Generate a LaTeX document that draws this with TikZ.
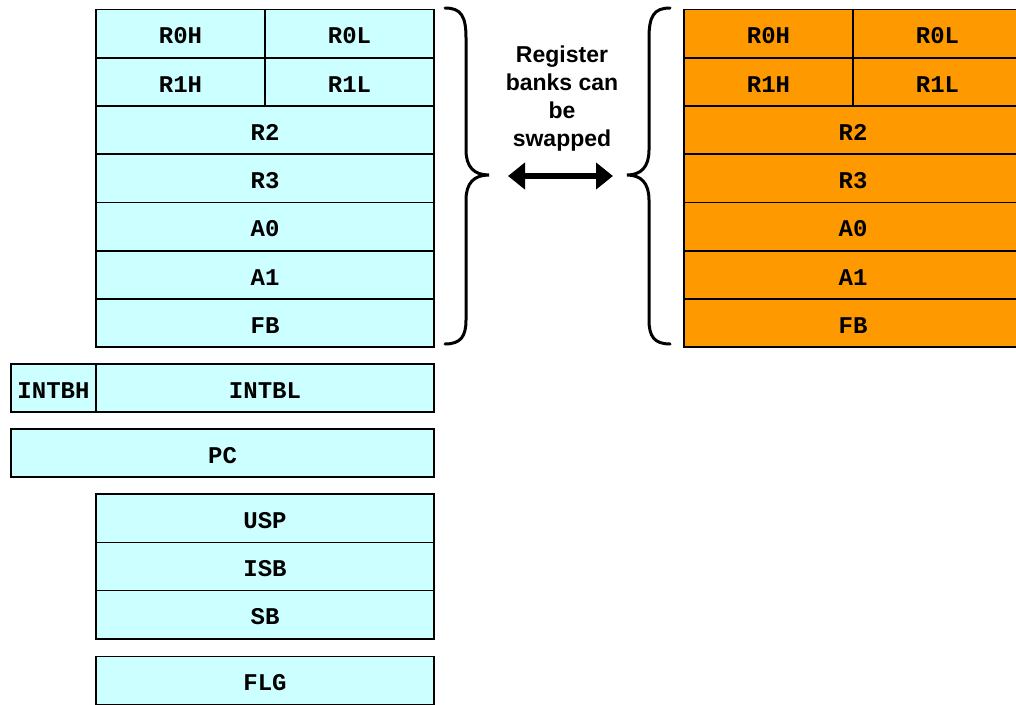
\documentclass[tikz,border=0pt]{standalone}
\usepackage{fontspec}
\setmainfont{Liberation Sans}
\newfontfamily\regfont{Liberation Mono}
\usetikzlibrary{arrows.meta}
\definecolor{regcyan}{HTML}{CCFFFF}
\definecolor{regorange}{HTML}{FF9900}
\tikzset{
  cell/.style={draw=black, line width=1.6pt, fill=regcyan, minimum height=48.25pt,
    inner sep=0pt, outer sep=0pt, text height=21pt, text depth=0.6pt,
    font=\regfont\bfseries\fontsize{24}{26}\selectfont},
  ocell/.style={cell, fill=regorange},
  full/.style={minimum width=338pt},
  half/.style={minimum width=169pt},
  brace/.style={line width=3pt, line cap=round},
  swaparrow/.style={line width=5.5pt, {Triangle[length=17pt,width=26pt]}-{Triangle[length=17pt,width=26pt]}},
  note/.style={align=center, font=\bfseries\fontsize{23}{28}\selectfont}
}
\begin{document}
\begin{tikzpicture}[x=1pt,y=-1pt]
\useasboundingbox (0,0) rectangle (1016,704);
% left bank
\node[cell,half] (r0h) at (180.5,33.625) {R0H};
\node[cell,half] (r0l) at (349.5,33.625) {R0L};
\node[cell,half] (r1h) at (180.5,81.875) {R1H};
\node[cell,half] (r1l) at (349.5,81.875) {R1L};
\node[cell,full] (r2) at (265,130.125) {R2};
\node[cell,full] (r3) at (265,178.375) {R3};
\node[cell,full] (a0) at (265,226.625) {A0};
\node[cell,full] (a1) at (265,274.875) {A1};
\node[cell,full] (fb) at (265,323.125) {FB};
% right bank
\node[ocell,half] (br0h) at (768.5,33.625) {R0H};
\node[ocell,half] (br0l) at (937.5,33.625) {R0L};
\node[ocell,half] (br1h) at (768.5,81.875) {R1H};
\node[ocell,half] (br1l) at (937.5,81.875) {R1L};
\node[ocell,full] (br2) at (853,130.125) {R2};
\node[ocell,full] (br3) at (853,178.375) {R3};
\node[ocell,full] (ba0) at (853,226.625) {A0};
\node[ocell,full] (ba1) at (853,274.875) {A1};
\node[ocell,full] (bfb) at (853,323.125) {FB};
% others
\node[cell,minimum width=85pt] (intbh) at (53.5,388) {INTBH};
\node[cell,full] (intbl) at (265,388) {INTBL};
\node[cell,minimum width=423pt] (pc) at (222.5,453) {PC};
\node[cell,full] (usp) at (265,518.25) {USP};
\node[cell,full] (isb) at (265,566.5) {ISB};
\node[cell,full] (sb) at (265,614.75) {SB};
\node[cell,full] (flg) at (265,680.75) {FLG};
% braces
\draw[brace] (445,8) .. controls (461,8) and (466,16) .. (466,38) -- (466,150)
  .. controls (466,167) and (474,175) .. (489,175)
  .. controls (474,175) and (466,183) .. (466,200) -- (466,320)
  .. controls (466,336) and (461,344) .. (445,344);
\draw[brace] (670,8) .. controls (654,8) and (649,16) .. (649,38) -- (649,150)
  .. controls (649,167) and (641,175) .. (627,175)
  .. controls (641,175) and (649,183) .. (649,200) -- (649,320)
  .. controls (649,336) and (654,344) .. (670,344);
% note and arrow
\node[note] (txt) at (562,99) {Register\\banks can\\be\\swapped};
\coordinate (al) at (508,176);
\coordinate (ar) at (613,176);
\draw[swaparrow] (al) -- (ar);
\end{tikzpicture}
\end{document}
